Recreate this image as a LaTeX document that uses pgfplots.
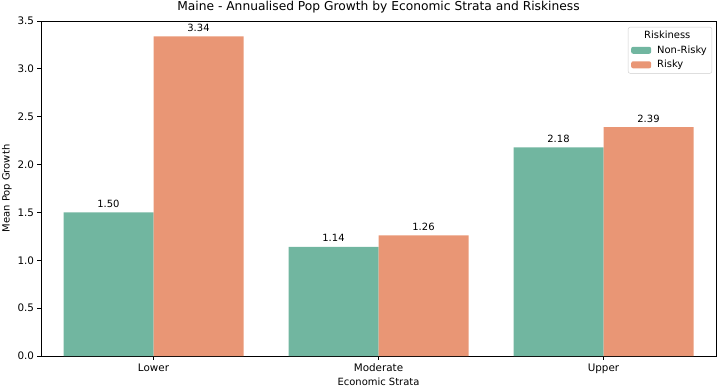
\documentclass[border=0pt]{standalone}
\usepackage{fontspec}
\setmainfont{DejaVu Sans}
\usepackage{pgfplots}
\pgfplotsset{compat=1.18}
\definecolor{teal2}{HTML}{71B6A0}
\definecolor{orange2}{HTML}{E99675}
\definecolor{legframe}{HTML}{CCCCCC}
\begin{document}
\begin{tikzpicture}
\begin{axis}[
  scale only axis,
  width=675bp, height=335bp,
  xmin=-0.5, xmax=2.5,
  ymin=0, ymax=3.5,
  ytick={0,0.5,1,1.5,2,2.5,3,3.5},
  xtick={0,1,2},
  xticklabels={Lower,Moderate,Upper},
  xtick pos=bottom, ytick pos=left,
  tick align=outside,
  major tick length=3.5bp,
  tick style={black, line width=0.8bp},
  axis line style={line width=0.8bp},
  /pgf/number format/assume math mode=true,
  yticklabel style={/pgf/number format/fixed, /pgf/number format/fixed zerofill, /pgf/number format/precision=1},
  ticklabel style={font=\fontsize{10.4}{12}\selectfont},
  xticklabel style={yshift=-1bp},
  label style={font=\fontsize{10}{12}\selectfont},
  title style={font=\fontsize{12.3}{14}\selectfont, at={(0.5,1)}, anchor=base, inner sep=0pt, yshift=5bp},
  title={Maine - Annualised Pop Growth by Economic Strata and Riskiness},
  xlabel={Economic Strata},
  ylabel={Mean Pop Growth},
  xlabel style={yshift=3bp},
  ylabel style={yshift=-1bp},
  ybar,
  bar width=0.4,
  nodes near coords,
  every node near coord/.append style={font=\fontsize{10}{12}\selectfont, /pgf/number format/fixed, /pgf/number format/fixed zerofill, /pgf/number format/precision=2, anchor=base, inner sep=0pt, yshift=5bp},
  legend style={at={(1,1)}, anchor=north east, xshift=-4bp, yshift=-6bp,
    draw=legframe, rounded corners=2bp, font=\fontsize{10}{12}\selectfont,
    row sep=1.5bp, inner xsep=3bp, inner ysep=2bp,
    /tikz/every odd column/.append style={column sep=4bp}},
  legend cell align=left,
  legend image code/.code={\fill[#1] (0bp,-3.5bp) rectangle (20bp,3.5bp);},
]
\addlegendimage{empty legend}
\addlegendentry{\hspace*{-13bp}Riskiness}
\addplot[fill=teal2, draw=none, bar shift=-0.2] coordinates {(0,1.50) (1,1.14) (2,2.18)};
\addlegendentry{Non-Risky}
\addplot[fill=orange2, draw=none, bar shift=0.2] coordinates {(0,3.34) (1,1.26) (2,2.39)};
\addlegendentry{Risky}
\end{axis}
\pgfresetboundingbox
\useasboundingbox (-41bp,-34bp) rectangle (679bp,356bp);
\end{tikzpicture}
\end{document}
